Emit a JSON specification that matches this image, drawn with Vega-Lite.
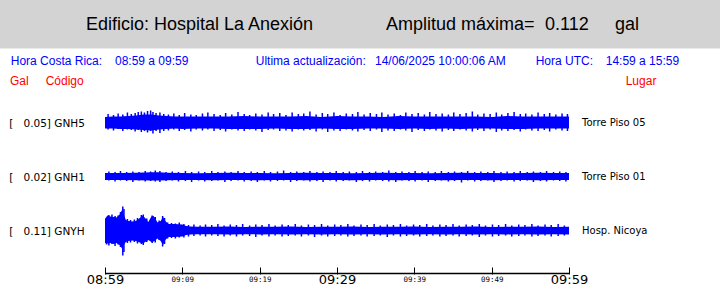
{
"$schema": "https://vega.github.io/schema/vega-lite/v6.json",
"width": 464,
"height": 274,
"autosize": {"type": "none"},
"padding": {"left": 105, "top": 0, "right": 151, "bottom": 14},
"background": "white",
"config": {"view": {"stroke": null}},
"data": {"values": [
{"s":"GNH5","k":"c","t":0,"a":117,"b":128.5},{"s":"GNH5","k":"c","t":1,"a":116.5,"b":128.5},{"s":"GNH5","k":"c","t":2,"a":116.5,"b":129},{"s":"GNH5","k":"c","t":3,"a":116,"b":129},{"s":"GNH5","k":"c","t":4,"a":115.5,"b":129.5},{"s":"GNH5","k":"c","t":5,"a":114.5,"b":130},{"s":"GNH5","k":"c","t":6,"a":114.5,"b":130.5},{"s":"GNH5","k":"c","t":7,"a":115.5,"b":129.5},{"s":"GNH5","k":"c","t":8,"a":116,"b":129},{"s":"GNH5","k":"c","t":9,"a":116.5,"b":128.5},{"s":"GNH5","k":"c","t":10,"a":116.5,"b":129},{"s":"GNH5","k":"c","t":12,"a":116.5,"b":128.5},{"s":"GNH5","k":"c","t":14,"a":116.5,"b":128.5},{"s":"GNH5","k":"c","t":16,"a":116.5,"b":129},{"s":"GNH5","k":"c","t":18,"a":116,"b":129},{"s":"GNH5","k":"c","t":20,"a":116.5,"b":129},{"s":"GNH5","k":"c","t":22,"a":116.5,"b":128.5},{"s":"GNH5","k":"c","t":24,"a":116.5,"b":129},{"s":"GNH5","k":"c","t":26,"a":116,"b":129},{"s":"GNH5","k":"c","t":28,"a":117,"b":128.5},{"s":"GNH5","k":"c","t":30,"a":116,"b":129},{"s":"GNH5","k":"c","t":32,"a":116.5,"b":129},{"s":"GNH5","k":"c","t":34,"a":116.5,"b":128.5},{"s":"GNH5","k":"c","t":36,"a":117,"b":128.5},{"s":"GNH5","k":"c","t":38,"a":116,"b":129},{"s":"GNH5","k":"c","t":40,"a":116.5,"b":128.5},{"s":"GNH5","k":"c","t":42,"a":116.5,"b":129},{"s":"GNH5","k":"c","t":44,"a":116.5,"b":128.5},{"s":"GNH5","k":"c","t":46,"a":116.5,"b":129},{"s":"GNH5","k":"c","t":48,"a":116.5,"b":128.5},{"s":"GNH5","k":"c","t":50,"a":117,"b":128.5},{"s":"GNH5","k":"c","t":52,"a":116,"b":129},{"s":"GNH5","k":"c","t":54,"a":116.5,"b":129},{"s":"GNH5","k":"c","t":56,"a":116.5,"b":128.5},{"s":"GNH5","k":"c","t":58,"a":116.5,"b":128.5},{"s":"GNH5","k":"c","t":60,"a":116.5,"b":128.5},
{"s":"GNH5","k":"p","t":0.4,"a":114,"b":129.5},{"s":"GNH5","k":"p","t":1.1,"a":115,"b":130.5},{"s":"GNH5","k":"p","t":1.7,"a":113.5,"b":129},{"s":"GNH5","k":"p","t":2.3,"a":114.5,"b":131},{"s":"GNH5","k":"p","t":2.9,"a":112.5,"b":129.5},{"s":"GNH5","k":"p","t":3.4,"a":114,"b":130},{"s":"GNH5","k":"p","t":3.9,"a":113,"b":131.5},{"s":"GNH5","k":"p","t":4.3,"a":112,"b":130},{"s":"GNH5","k":"p","t":4.7,"a":111.5,"b":132},{"s":"GNH5","k":"p","t":5.1,"a":112.5,"b":131},{"s":"GNH5","k":"p","t":5.5,"a":111,"b":132.5},{"s":"GNH5","k":"p","t":5.9,"a":110.5,"b":131},{"s":"GNH5","k":"p","t":6.2,"a":112,"b":133.5},{"s":"GNH5","k":"p","t":6.6,"a":113,"b":131},{"s":"GNH5","k":"p","t":7.1,"a":112.5,"b":133},{"s":"GNH5","k":"p","t":7.6,"a":114,"b":131},{"s":"GNH5","k":"p","t":8.2,"a":114.5,"b":130.5},{"s":"GNH5","k":"p","t":8.9,"a":113.5,"b":129.5},{"s":"GNH5","k":"p","t":9.6,"a":115,"b":131},{"s":"GNH5","k":"p","t":10.3,"a":113,"b":130},{"s":"GNH5","k":"p","t":11.1,"a":114.5,"b":131.5},{"s":"GNH5","k":"p","t":11.8,"a":115,"b":129.5},{"s":"GNH5","k":"p","t":12.6,"a":113.5,"b":130.5},{"s":"GNH5","k":"p","t":13.3,"a":112.5,"b":129.5},{"s":"GNH5","k":"p","t":14.1,"a":114,"b":131},{"s":"GNH5","k":"p","t":14.9,"a":115,"b":130},{"s":"GNH5","k":"p","t":15.6,"a":113,"b":131.5},{"s":"GNH5","k":"p","t":16.4,"a":114.5,"b":129.5},{"s":"GNH5","k":"p","t":17.2,"a":112,"b":130.5},{"s":"GNH5","k":"p","t":18.0,"a":114,"b":131},{"s":"GNH5","k":"p","t":18.7,"a":115,"b":129.5},{"s":"GNH5","k":"p","t":19.5,"a":113.5,"b":130.5},{"s":"GNH5","k":"p","t":20.3,"a":114.5,"b":132},{"s":"GNH5","k":"p","t":21.1,"a":112.5,"b":130},{"s":"GNH5","k":"p","t":21.8,"a":114,"b":129.5},{"s":"GNH5","k":"p","t":22.6,"a":113,"b":131},{"s":"GNH5","k":"p","t":23.4,"a":115,"b":130.5},{"s":"GNH5","k":"p","t":24.2,"a":112.5,"b":131.5},{"s":"GNH5","k":"p","t":25.0,"a":114,"b":129.5},{"s":"GNH5","k":"p","t":25.7,"a":113.5,"b":130.5},{"s":"GNH5","k":"p","t":26.5,"a":111.5,"b":130},{"s":"GNH5","k":"p","t":27.3,"a":114.5,"b":131.5},{"s":"GNH5","k":"p","t":28.1,"a":113,"b":129.5},{"s":"GNH5","k":"p","t":28.8,"a":114,"b":132},{"s":"GNH5","k":"p","t":29.6,"a":112.5,"b":130.5},{"s":"GNH5","k":"p","t":30.4,"a":115,"b":131},{"s":"GNH5","k":"p","t":31.2,"a":113.5,"b":129.5},{"s":"GNH5","k":"p","t":32.0,"a":114,"b":130.5},{"s":"GNH5","k":"p","t":32.7,"a":112,"b":131.5},{"s":"GNH5","k":"p","t":33.5,"a":114.5,"b":130},{"s":"GNH5","k":"p","t":34.3,"a":113,"b":131},{"s":"GNH5","k":"p","t":35.1,"a":114,"b":129.5},{"s":"GNH5","k":"p","t":35.8,"a":112.5,"b":132},{"s":"GNH5","k":"p","t":36.6,"a":114.5,"b":130.5},{"s":"GNH5","k":"p","t":37.4,"a":113.5,"b":131},{"s":"GNH5","k":"p","t":38.2,"a":115,"b":129.5},{"s":"GNH5","k":"p","t":38.9,"a":112.5,"b":130.5},{"s":"GNH5","k":"p","t":39.7,"a":114,"b":132},{"s":"GNH5","k":"p","t":40.5,"a":113,"b":130},{"s":"GNH5","k":"p","t":41.3,"a":114.5,"b":131},{"s":"GNH5","k":"p","t":42.0,"a":112,"b":129.5},{"s":"GNH5","k":"p","t":42.8,"a":114,"b":130.5},{"s":"GNH5","k":"p","t":43.6,"a":113.5,"b":131.5},{"s":"GNH5","k":"p","t":44.4,"a":114.5,"b":130},{"s":"GNH5","k":"p","t":45.1,"a":112.5,"b":131},{"s":"GNH5","k":"p","t":45.9,"a":114,"b":129.5},{"s":"GNH5","k":"p","t":46.7,"a":113,"b":130.5},{"s":"GNH5","k":"p","t":47.5,"a":111.5,"b":131.5},{"s":"GNH5","k":"p","t":48.2,"a":114.5,"b":130},{"s":"GNH5","k":"p","t":49.0,"a":113.5,"b":131},{"s":"GNH5","k":"p","t":49.8,"a":114,"b":129.5},{"s":"GNH5","k":"p","t":50.6,"a":112.5,"b":132},{"s":"GNH5","k":"p","t":51.3,"a":114.5,"b":130.5},{"s":"GNH5","k":"p","t":52.1,"a":113,"b":131},{"s":"GNH5","k":"p","t":52.9,"a":112,"b":130},{"s":"GNH5","k":"p","t":53.7,"a":114,"b":131.5},{"s":"GNH5","k":"p","t":54.4,"a":113.5,"b":129.5},{"s":"GNH5","k":"p","t":55.2,"a":114.5,"b":130.5},{"s":"GNH5","k":"p","t":56.0,"a":112.5,"b":131},{"s":"GNH5","k":"p","t":56.8,"a":114,"b":130},{"s":"GNH5","k":"p","t":57.5,"a":113,"b":131.5},{"s":"GNH5","k":"p","t":58.3,"a":114.5,"b":129.5},{"s":"GNH5","k":"p","t":59.1,"a":113.5,"b":130.5},{"s":"GNH5","k":"p","t":59.8,"a":114,"b":131},
{"s":"GNH1","k":"c","t":0,"a":173,"b":180},{"s":"GNH1","k":"c","t":2,"a":173,"b":180},{"s":"GNH1","k":"c","t":4,"a":172.8,"b":180.2},{"s":"GNH1","k":"c","t":6,"a":172.3,"b":180.5},{"s":"GNH1","k":"c","t":7,"a":172.2,"b":180.5},{"s":"GNH1","k":"c","t":8,"a":172.8,"b":180.2},{"s":"GNH1","k":"c","t":10,"a":173,"b":180},{"s":"GNH1","k":"c","t":12,"a":173.2,"b":180},{"s":"GNH1","k":"c","t":14,"a":173,"b":180.2},{"s":"GNH1","k":"c","t":16,"a":172.8,"b":180},{"s":"GNH1","k":"c","t":18,"a":173,"b":180},{"s":"GNH1","k":"c","t":20,"a":173,"b":180.2},{"s":"GNH1","k":"c","t":22,"a":173.2,"b":180},{"s":"GNH1","k":"c","t":24,"a":173,"b":180},{"s":"GNH1","k":"c","t":26,"a":172.8,"b":180.2},{"s":"GNH1","k":"c","t":28,"a":173,"b":180},{"s":"GNH1","k":"c","t":30,"a":173,"b":180},{"s":"GNH1","k":"c","t":32,"a":173.2,"b":180.2},{"s":"GNH1","k":"c","t":34,"a":173,"b":180},{"s":"GNH1","k":"c","t":36,"a":172.8,"b":180},{"s":"GNH1","k":"c","t":38,"a":173,"b":180.2},{"s":"GNH1","k":"c","t":40,"a":173,"b":180},{"s":"GNH1","k":"c","t":42,"a":173.2,"b":180},{"s":"GNH1","k":"c","t":44,"a":173,"b":180.2},{"s":"GNH1","k":"c","t":46,"a":172.8,"b":180},{"s":"GNH1","k":"c","t":48,"a":173,"b":180},{"s":"GNH1","k":"c","t":50,"a":173,"b":180.2},{"s":"GNH1","k":"c","t":52,"a":173.2,"b":180},{"s":"GNH1","k":"c","t":54,"a":173,"b":180},{"s":"GNH1","k":"c","t":56,"a":172.8,"b":180.2},{"s":"GNH1","k":"c","t":58,"a":173,"b":180},{"s":"GNH1","k":"c","t":60,"a":173,"b":180},
{"s":"GNH1","k":"p","t":0.5,"a":171.5,"b":180.5},{"s":"GNH1","k":"p","t":1.3,"a":172,"b":181.5},{"s":"GNH1","k":"p","t":2.0,"a":171,"b":180.5},{"s":"GNH1","k":"p","t":2.8,"a":172,"b":181},{"s":"GNH1","k":"p","t":3.6,"a":171.5,"b":182},{"s":"GNH1","k":"p","t":4.4,"a":172,"b":180.5},{"s":"GNH1","k":"p","t":5.2,"a":171,"b":181.5},{"s":"GNH1","k":"p","t":5.9,"a":171.5,"b":181},{"s":"GNH1","k":"p","t":6.5,"a":170.5,"b":181.5},{"s":"GNH1","k":"p","t":7.1,"a":171,"b":182},{"s":"GNH1","k":"p","t":7.9,"a":172,"b":181},{"s":"GNH1","k":"p","t":8.7,"a":171.5,"b":180.5},{"s":"GNH1","k":"p","t":9.5,"a":172,"b":181.5},{"s":"GNH1","k":"p","t":10.4,"a":171,"b":181},{"s":"GNH1","k":"p","t":11.2,"a":172,"b":182},{"s":"GNH1","k":"p","t":12.1,"a":171.5,"b":180.5},{"s":"GNH1","k":"p","t":12.9,"a":172,"b":181.5},{"s":"GNH1","k":"p","t":13.8,"a":171,"b":181},{"s":"GNH1","k":"p","t":14.6,"a":172,"b":180.5},{"s":"GNH1","k":"p","t":15.5,"a":171.5,"b":182},{"s":"GNH1","k":"p","t":16.3,"a":172,"b":181},{"s":"GNH1","k":"p","t":17.2,"a":171,"b":180.5},{"s":"GNH1","k":"p","t":18.0,"a":172,"b":181.5},{"s":"GNH1","k":"p","t":18.9,"a":171.5,"b":181},{"s":"GNH1","k":"p","t":19.7,"a":172,"b":182},{"s":"GNH1","k":"p","t":20.6,"a":171,"b":180.5},{"s":"GNH1","k":"p","t":21.4,"a":172,"b":181.5},{"s":"GNH1","k":"p","t":22.3,"a":171.5,"b":181},{"s":"GNH1","k":"p","t":23.1,"a":170.5,"b":180.5},{"s":"GNH1","k":"p","t":24.0,"a":172,"b":182},{"s":"GNH1","k":"p","t":24.8,"a":171.5,"b":181},{"s":"GNH1","k":"p","t":25.7,"a":172,"b":180.5},{"s":"GNH1","k":"p","t":26.5,"a":171,"b":181.5},{"s":"GNH1","k":"p","t":27.4,"a":172,"b":181},{"s":"GNH1","k":"p","t":28.2,"a":171.5,"b":182},{"s":"GNH1","k":"p","t":29.1,"a":172,"b":180.5},{"s":"GNH1","k":"p","t":29.9,"a":171,"b":181.5},{"s":"GNH1","k":"p","t":30.8,"a":172,"b":181},{"s":"GNH1","k":"p","t":31.6,"a":171.5,"b":180.5},{"s":"GNH1","k":"p","t":32.5,"a":172,"b":182},{"s":"GNH1","k":"p","t":33.3,"a":171,"b":181},{"s":"GNH1","k":"p","t":34.2,"a":172,"b":181.5},{"s":"GNH1","k":"p","t":35.0,"a":171.5,"b":180.5},{"s":"GNH1","k":"p","t":35.9,"a":172,"b":181},{"s":"GNH1","k":"p","t":36.7,"a":170.5,"b":181.5},{"s":"GNH1","k":"p","t":37.6,"a":172,"b":182},{"s":"GNH1","k":"p","t":38.4,"a":171.5,"b":180.5},{"s":"GNH1","k":"p","t":39.3,"a":172,"b":181},{"s":"GNH1","k":"p","t":40.1,"a":171,"b":181.5},{"s":"GNH1","k":"p","t":41.0,"a":172,"b":180.5},{"s":"GNH1","k":"p","t":41.8,"a":171.5,"b":182},{"s":"GNH1","k":"p","t":42.7,"a":172,"b":181},{"s":"GNH1","k":"p","t":43.5,"a":171,"b":180.5},{"s":"GNH1","k":"p","t":44.4,"a":172,"b":181.5},{"s":"GNH1","k":"p","t":45.2,"a":171.5,"b":181},{"s":"GNH1","k":"p","t":46.1,"a":172,"b":182.5},{"s":"GNH1","k":"p","t":46.9,"a":171,"b":180.5},{"s":"GNH1","k":"p","t":47.8,"a":172,"b":181.5},{"s":"GNH1","k":"p","t":48.6,"a":171.5,"b":181},{"s":"GNH1","k":"p","t":49.5,"a":172,"b":180.5},{"s":"GNH1","k":"p","t":50.3,"a":171,"b":182},{"s":"GNH1","k":"p","t":51.2,"a":172,"b":181},{"s":"GNH1","k":"p","t":52.0,"a":171.5,"b":180.5},{"s":"GNH1","k":"p","t":52.9,"a":172,"b":181.5},{"s":"GNH1","k":"p","t":53.7,"a":171,"b":181},{"s":"GNH1","k":"p","t":54.6,"a":172,"b":180.5},{"s":"GNH1","k":"p","t":55.4,"a":171.5,"b":182},{"s":"GNH1","k":"p","t":56.3,"a":172,"b":181},{"s":"GNH1","k":"p","t":57.1,"a":171,"b":181.5},{"s":"GNH1","k":"p","t":58.0,"a":172,"b":180.5},{"s":"GNH1","k":"p","t":58.8,"a":171.5,"b":181},{"s":"GNH1","k":"p","t":59.6,"a":172,"b":181.5},
{"s":"GNYH","k":"c","t":0,"a":219,"b":243},{"s":"GNYH","k":"c","t":0.3,"a":215.5,"b":243.5},{"s":"GNYH","k":"c","t":0.7,"a":216.5,"b":243},{"s":"GNYH","k":"c","t":1.1,"a":217,"b":244},{"s":"GNYH","k":"c","t":1.5,"a":217.5,"b":243},{"s":"GNYH","k":"c","t":1.9,"a":214.5,"b":245},{"s":"GNYH","k":"c","t":2.2,"a":210,"b":248.5},{"s":"GNYH","k":"c","t":2.5,"a":216,"b":244},{"s":"GNYH","k":"c","t":2.7,"a":220,"b":242},{"s":"GNYH","k":"c","t":3.0,"a":221,"b":241},{"s":"GNYH","k":"c","t":3.5,"a":221.5,"b":240.5},{"s":"GNYH","k":"c","t":4.0,"a":221,"b":241},{"s":"GNYH","k":"c","t":4.5,"a":218,"b":242.5},{"s":"GNYH","k":"c","t":4.9,"a":215.5,"b":243.5},{"s":"GNYH","k":"c","t":5.3,"a":219,"b":241.5},{"s":"GNYH","k":"c","t":5.6,"a":222,"b":240},{"s":"GNYH","k":"c","t":6.0,"a":216.5,"b":242},{"s":"GNYH","k":"c","t":6.3,"a":216,"b":241.5},{"s":"GNYH","k":"c","t":6.8,"a":222.5,"b":238.5},{"s":"GNYH","k":"c","t":7.2,"a":221,"b":241},{"s":"GNYH","k":"c","t":7.5,"a":217,"b":245},{"s":"GNYH","k":"c","t":7.8,"a":221,"b":240},{"s":"GNYH","k":"c","t":8.2,"a":224,"b":237},{"s":"GNYH","k":"c","t":9.0,"a":224,"b":237},{"s":"GNYH","k":"c","t":10.0,"a":224.5,"b":236.5},{"s":"GNYH","k":"c","t":10.5,"a":226,"b":235},{"s":"GNYH","k":"c","t":11,"a":226.5,"b":234.5},{"s":"GNYH","k":"c","t":12,"a":226.8,"b":234.3},{"s":"GNYH","k":"c","t":14,"a":226.8,"b":234.3},{"s":"GNYH","k":"c","t":16,"a":226.6,"b":234.5},{"s":"GNYH","k":"c","t":18,"a":227,"b":234.2},{"s":"GNYH","k":"c","t":20,"a":226.7,"b":234.4},{"s":"GNYH","k":"c","t":22,"a":226.8,"b":234.3},{"s":"GNYH","k":"c","t":24,"a":226.6,"b":234.5},{"s":"GNYH","k":"c","t":26,"a":227,"b":234.3},{"s":"GNYH","k":"c","t":28,"a":226.7,"b":234.4},{"s":"GNYH","k":"c","t":30,"a":226.8,"b":234.2},{"s":"GNYH","k":"c","t":32,"a":226.6,"b":234.5},{"s":"GNYH","k":"c","t":34,"a":227,"b":234.3},{"s":"GNYH","k":"c","t":36,"a":226.7,"b":234.4},{"s":"GNYH","k":"c","t":38,"a":226.8,"b":234.3},{"s":"GNYH","k":"c","t":40,"a":226.6,"b":234.5},{"s":"GNYH","k":"c","t":42,"a":227,"b":234.2},{"s":"GNYH","k":"c","t":44,"a":226.7,"b":234.4},{"s":"GNYH","k":"c","t":46,"a":226.8,"b":234.3},{"s":"GNYH","k":"c","t":48,"a":226.6,"b":234.5},{"s":"GNYH","k":"c","t":50,"a":227,"b":234.3},{"s":"GNYH","k":"c","t":52,"a":226.7,"b":234.4},{"s":"GNYH","k":"c","t":54,"a":226.8,"b":234.2},{"s":"GNYH","k":"c","t":56,"a":226.6,"b":234.5},{"s":"GNYH","k":"c","t":58,"a":227,"b":234.3},{"s":"GNYH","k":"c","t":60,"a":226.7,"b":234.4},
{"s":"GNYH","k":"p","t":0.2,"a":218,"b":244.5},{"s":"GNYH","k":"p","t":0.5,"a":215,"b":245.5},{"s":"GNYH","k":"p","t":0.9,"a":214.5,"b":244},{"s":"GNYH","k":"p","t":1.3,"a":216,"b":246},{"s":"GNYH","k":"p","t":1.7,"a":215.5,"b":244.5},{"s":"GNYH","k":"p","t":2.0,"a":212,"b":247},{"s":"GNYH","k":"p","t":2.3,"a":206.5,"b":255.5},{"s":"GNYH","k":"p","t":2.45,"a":209,"b":252},{"s":"GNYH","k":"p","t":2.9,"a":219,"b":243},{"s":"GNYH","k":"p","t":3.3,"a":220,"b":242.5},{"s":"GNYH","k":"p","t":3.8,"a":219.5,"b":242},{"s":"GNYH","k":"p","t":4.2,"a":218,"b":243.5},{"s":"GNYH","k":"p","t":4.7,"a":215,"b":244},{"s":"GNYH","k":"p","t":4.95,"a":214.5,"b":245},{"s":"GNYH","k":"p","t":5.4,"a":218.5,"b":242},{"s":"GNYH","k":"p","t":6.1,"a":215.5,"b":243},{"s":"GNYH","k":"p","t":6.5,"a":217,"b":242.5},{"s":"GNYH","k":"p","t":7.0,"a":220.5,"b":240},{"s":"GNYH","k":"p","t":7.45,"a":216,"b":246.5},{"s":"GNYH","k":"p","t":7.7,"a":218,"b":244},{"s":"GNYH","k":"p","t":8.1,"a":222.5,"b":238.5},{"s":"GNYH","k":"p","t":8.6,"a":223,"b":238},{"s":"GNYH","k":"p","t":9.1,"a":223.5,"b":238.5},{"s":"GNYH","k":"p","t":9.6,"a":222.5,"b":237.5},{"s":"GNYH","k":"p","t":10.2,"a":224,"b":237.5},{"s":"GNYH","k":"p","t":10.8,"a":225,"b":236.5},{"s":"GNYH","k":"p","t":11.5,"a":224.5,"b":236},{"s":"GNYH","k":"p","t":12.3,"a":225.5,"b":235.5},{"s":"GNYH","k":"p","t":13.0,"a":224.5,"b":236.5},{"s":"GNYH","k":"p","t":13.8,"a":225,"b":235.5},{"s":"GNYH","k":"p","t":14.6,"a":224,"b":236},{"s":"GNYH","k":"p","t":15.4,"a":225.5,"b":236.5},{"s":"GNYH","k":"p","t":16.2,"a":224.5,"b":235.5},{"s":"GNYH","k":"p","t":17.0,"a":225,"b":236.5},{"s":"GNYH","k":"p","t":17.8,"a":224,"b":235.5},{"s":"GNYH","k":"p","t":18.7,"a":225.5,"b":236},{"s":"GNYH","k":"p","t":19.5,"a":224.5,"b":237},{"s":"GNYH","k":"p","t":20.3,"a":225,"b":235.5},{"s":"GNYH","k":"p","t":21.2,"a":224,"b":236.5},{"s":"GNYH","k":"p","t":22.0,"a":225.5,"b":235.5},{"s":"GNYH","k":"p","t":22.9,"a":224.5,"b":236.5},{"s":"GNYH","k":"p","t":23.7,"a":225,"b":236},{"s":"GNYH","k":"p","t":24.6,"a":224,"b":235.5},{"s":"GNYH","k":"p","t":25.4,"a":225.5,"b":236.5},{"s":"GNYH","k":"p","t":26.3,"a":224.5,"b":235.5},{"s":"GNYH","k":"p","t":27.1,"a":225,"b":237},{"s":"GNYH","k":"p","t":28.0,"a":224,"b":235.5},{"s":"GNYH","k":"p","t":28.8,"a":225.5,"b":236.5},{"s":"GNYH","k":"p","t":29.7,"a":224.5,"b":236},{"s":"GNYH","k":"p","t":30.5,"a":225,"b":235.5},{"s":"GNYH","k":"p","t":31.4,"a":224,"b":236.5},{"s":"GNYH","k":"p","t":32.2,"a":225.5,"b":236},{"s":"GNYH","k":"p","t":33.1,"a":224.5,"b":235.5},{"s":"GNYH","k":"p","t":33.9,"a":225,"b":236.5},{"s":"GNYH","k":"p","t":34.8,"a":224,"b":236},{"s":"GNYH","k":"p","t":35.6,"a":225.5,"b":235.5},{"s":"GNYH","k":"p","t":36.5,"a":224.5,"b":237},{"s":"GNYH","k":"p","t":37.3,"a":225,"b":235.5},{"s":"GNYH","k":"p","t":38.2,"a":224,"b":236.5},{"s":"GNYH","k":"p","t":39.0,"a":225.5,"b":236},{"s":"GNYH","k":"p","t":39.9,"a":224.5,"b":235.5},{"s":"GNYH","k":"p","t":40.7,"a":225,"b":236.5},{"s":"GNYH","k":"p","t":41.6,"a":224,"b":236},{"s":"GNYH","k":"p","t":42.4,"a":225.5,"b":235.5},{"s":"GNYH","k":"p","t":43.3,"a":224.5,"b":236.5},{"s":"GNYH","k":"p","t":44.1,"a":225,"b":236},{"s":"GNYH","k":"p","t":45.0,"a":224,"b":235.5},{"s":"GNYH","k":"p","t":45.8,"a":225.5,"b":236.5},{"s":"GNYH","k":"p","t":46.7,"a":224.5,"b":236},{"s":"GNYH","k":"p","t":47.5,"a":225,"b":235.5},{"s":"GNYH","k":"p","t":48.4,"a":224,"b":237},{"s":"GNYH","k":"p","t":49.2,"a":225.5,"b":235.5},{"s":"GNYH","k":"p","t":50.1,"a":224.5,"b":236.5},{"s":"GNYH","k":"p","t":50.9,"a":225,"b":236},{"s":"GNYH","k":"p","t":51.8,"a":224,"b":235.5},{"s":"GNYH","k":"p","t":52.6,"a":225.5,"b":236.5},{"s":"GNYH","k":"p","t":53.5,"a":224.5,"b":236},{"s":"GNYH","k":"p","t":54.3,"a":225,"b":235.5},{"s":"GNYH","k":"p","t":55.2,"a":224,"b":236.5},{"s":"GNYH","k":"p","t":56.0,"a":225.5,"b":236},{"s":"GNYH","k":"p","t":56.9,"a":224.5,"b":235.5},{"s":"GNYH","k":"p","t":57.7,"a":225,"b":236.5},{"s":"GNYH","k":"p","t":58.6,"a":224,"b":236},{"s":"GNYH","k":"p","t":59.4,"a":225.5,"b":235.5}
]},
"layer": [
{"transform": [{"filter": "datum.k == 'c'"}],
 "mark": {"type": "area", "color": "#0000ff", "opacity": 1},
 "encoding": {
  "x": {"field": "t", "type": "quantitative", "scale": {"domain": [0, 60], "nice": false, "zero": false},
   "axis": {"values": [0,5,10,15,20,25,30,35,40,45,50,55,60], "title": null, "grid": false,
    "domain": false, "ticks": true,
    "tickColor": "black", "tickSize": -7, "tickWidth": 1, "tickOpacity": 1,
    "labelColor": "black", "labelOverlap": false, "labelFlush": false, "labelBound": false, "labelFontWeight": "normal",
    "labelExpr": "datum.value % 10 ? '' : '0' + (8 + floor((59 + datum.value) / 60)) + ':' + format((59 + datum.value) % 60, '02d')",
    "labelFontSize": {"condition": {"test": "datum.value % 30 == 0", "value": 13}, "value": 7.5},
    "labelFont": {"condition": {"test": "datum.value % 30 == 0", "value": "DejaVu Sans"}, "value": "DejaVu Sans Mono"},
    "labelBaseline": "alphabetic",
    "labelPadding": {"condition": {"test": "datum.value % 30 == 0", "value": 16.5}, "value": 14.5}}},
  "y": {"field": "a", "type": "quantitative", "scale": {"domain": [0, 274], "reverse": true, "nice": false, "zero": false}, "axis": null},
  "y2": {"field": "b"},
  "detail": {"field": "s"}}},
{"transform": [{"filter": "datum.k == 'p'"}],
 "mark": {"type": "rule", "color": "#0000ff", "strokeWidth": 1.5},
 "encoding": {
  "x": {"field": "t", "type": "quantitative"},
  "y": {"field": "a", "type": "quantitative", "axis": null},
  "y2": {"field": "b"}}},
{"data": {"values": [{}]}, "mark": {"type": "rule", "color": "black", "strokeWidth": 1.3},
 "encoding": {"x": {"datum": 0, "type": "quantitative"}, "x2": {"datum": 60}, "y": {"datum": 273.5, "type": "quantitative", "axis": null}}},
{"data": {"values": [{}]}, "mark": {"type": "rect", "color": "#d3d3d3"},
 "encoding": {"x": {"datum": -20, "type": "quantitative"}, "x2": {"datum": 90}, "y": {"datum": -5, "type": "quantitative", "axis": null}, "y2": {"datum": 48.5}}},
{"data": {"values": [{}]}, "mark": {"type": "text", "align": "left", "baseline": "alphabetic", "font": "Liberation Sans", "fontSize": 18, "color": "black"},
 "encoding": {"x": {"datum": -2.46, "type": "quantitative"}, "y": {"datum": 30, "type": "quantitative", "axis": null}, "text": {"value": "Edificio: Hospital La Anexión"}}},
{"data": {"values": [{}]}, "mark": {"type": "text", "align": "left", "baseline": "alphabetic", "font": "Liberation Sans", "fontSize": 18, "color": "black"},
 "encoding": {"x": {"datum": 36.34, "type": "quantitative"}, "y": {"datum": 30, "type": "quantitative", "axis": null}, "text": {"value": "Amplitud máxima="}}},
{"data": {"values": [{}]}, "mark": {"type": "text", "align": "left", "baseline": "alphabetic", "font": "Liberation Sans", "fontSize": 18, "color": "black"},
 "encoding": {"x": {"datum": 56.9, "type": "quantitative"}, "y": {"datum": 30, "type": "quantitative", "axis": null}, "text": {"value": "0.112"}}},
{"data": {"values": [{}]}, "mark": {"type": "text", "align": "left", "baseline": "alphabetic", "font": "Liberation Sans", "fontSize": 18, "color": "black"},
 "encoding": {"x": {"datum": 65.95, "type": "quantitative"}, "y": {"datum": 30, "type": "quantitative", "axis": null}, "text": {"value": "gal"}}},
{"data": {"values": [{}]}, "mark": {"type": "text", "align": "left", "baseline": "alphabetic", "font": "Liberation Sans", "fontSize": 12, "color": "#0000ff"},
 "encoding": {"x": {"datum": -12.19, "type": "quantitative"}, "y": {"datum": 65, "type": "quantitative", "axis": null}, "text": {"value": "Hora Costa Rica:"}}},
{"data": {"values": [{}]}, "mark": {"type": "text", "align": "left", "baseline": "alphabetic", "font": "Liberation Sans", "fontSize": 12, "color": "#0000ff"},
 "encoding": {"x": {"datum": 1.29, "type": "quantitative"}, "y": {"datum": 65, "type": "quantitative", "axis": null}, "text": {"value": "08:59 a 09:59"}}},
{"data": {"values": [{}]}, "mark": {"type": "text", "align": "left", "baseline": "alphabetic", "font": "Liberation Sans", "fontSize": 12, "color": "#0000ff"},
 "encoding": {"x": {"datum": 19.49, "type": "quantitative"}, "y": {"datum": 65, "type": "quantitative", "axis": null}, "text": {"value": "Ultima actualización:"}}},
{"data": {"values": [{}]}, "mark": {"type": "text", "align": "left", "baseline": "alphabetic", "font": "Liberation Sans", "fontSize": 12, "color": "#0000ff"},
 "encoding": {"x": {"datum": 34.91, "type": "quantitative"}, "y": {"datum": 65, "type": "quantitative", "axis": null}, "text": {"value": "14/06/2025 10:00:06 AM"}}},
{"data": {"values": [{}]}, "mark": {"type": "text", "align": "left", "baseline": "alphabetic", "font": "Liberation Sans", "fontSize": 12, "color": "#0000ff"},
 "encoding": {"x": {"datum": 55.69, "type": "quantitative"}, "y": {"datum": 65, "type": "quantitative", "axis": null}, "text": {"value": "Hora UTC:"}}},
{"data": {"values": [{}]}, "mark": {"type": "text", "align": "left", "baseline": "alphabetic", "font": "Liberation Sans", "fontSize": 12, "color": "#0000ff"},
 "encoding": {"x": {"datum": 64.75, "type": "quantitative"}, "y": {"datum": 65, "type": "quantitative", "axis": null}, "text": {"value": "14:59 a 15:59"}}},
{"data": {"values": [{}]}, "mark": {"type": "text", "align": "left", "baseline": "alphabetic", "font": "Liberation Sans", "fontSize": 12, "color": "#ff0000"},
 "encoding": {"x": {"datum": -12.28, "type": "quantitative"}, "y": {"datum": 85, "type": "quantitative", "axis": null}, "text": {"value": "Gal"}}},
{"data": {"values": [{}]}, "mark": {"type": "text", "align": "left", "baseline": "alphabetic", "font": "Liberation Sans", "fontSize": 12, "color": "#ff0000"},
 "encoding": {"x": {"datum": -7.67, "type": "quantitative"}, "y": {"datum": 85, "type": "quantitative", "axis": null}, "text": {"value": "Código"}}},
{"data": {"values": [{}]}, "mark": {"type": "text", "align": "left", "baseline": "alphabetic", "font": "Liberation Sans", "fontSize": 12, "color": "#ff0000"},
 "encoding": {"x": {"datum": 67.33, "type": "quantitative"}, "y": {"datum": 85, "type": "quantitative", "axis": null}, "text": {"value": "Lugar"}}},
{"data": {"values": [{}]}, "mark": {"type": "text", "align": "left", "baseline": "alphabetic", "font": "DejaVu Sans", "fontSize": 10.5, "color": "black"},
 "encoding": {"x": {"datum": -12.37, "type": "quantitative"}, "y": {"datum": 126.5, "type": "quantitative", "axis": null}, "text": {"value": "[\u00a0\u00a0\u00a00.05] GNH5"}}},
{"data": {"values": [{}]}, "mark": {"type": "text", "align": "left", "baseline": "alphabetic", "font": "DejaVu Sans", "fontSize": 10.5, "color": "black"},
 "encoding": {"x": {"datum": -12.37, "type": "quantitative"}, "y": {"datum": 180.5, "type": "quantitative", "axis": null}, "text": {"value": "[\u00a0\u00a0\u00a00.02] GNH1"}}},
{"data": {"values": [{}]}, "mark": {"type": "text", "align": "left", "baseline": "alphabetic", "font": "DejaVu Sans", "fontSize": 10.5, "color": "black"},
 "encoding": {"x": {"datum": -12.37, "type": "quantitative"}, "y": {"datum": 234.5, "type": "quantitative", "axis": null}, "text": {"value": "[\u00a0\u00a0\u00a00.11] GNYH"}}},
{"data": {"values": [{}]}, "mark": {"type": "text", "align": "left", "baseline": "alphabetic", "font": "DejaVu Sans", "fontSize": 10, "color": "black"},
 "encoding": {"x": {"datum": 61.68, "type": "quantitative"}, "y": {"datum": 126, "type": "quantitative", "axis": null}, "text": {"value": "Torre Piso 05"}}},
{"data": {"values": [{}]}, "mark": {"type": "text", "align": "left", "baseline": "alphabetic", "font": "DejaVu Sans", "fontSize": 10, "color": "black"},
 "encoding": {"x": {"datum": 61.68, "type": "quantitative"}, "y": {"datum": 180, "type": "quantitative", "axis": null}, "text": {"value": "Torre Piso 01"}}},
{"data": {"values": [{}]}, "mark": {"type": "text", "align": "left", "baseline": "alphabetic", "font": "DejaVu Sans", "fontSize": 10, "color": "black"},
 "encoding": {"x": {"datum": 61.68, "type": "quantitative"}, "y": {"datum": 234, "type": "quantitative", "axis": null}, "text": {"value": "Hosp. Nicoya"}}}
]
}
